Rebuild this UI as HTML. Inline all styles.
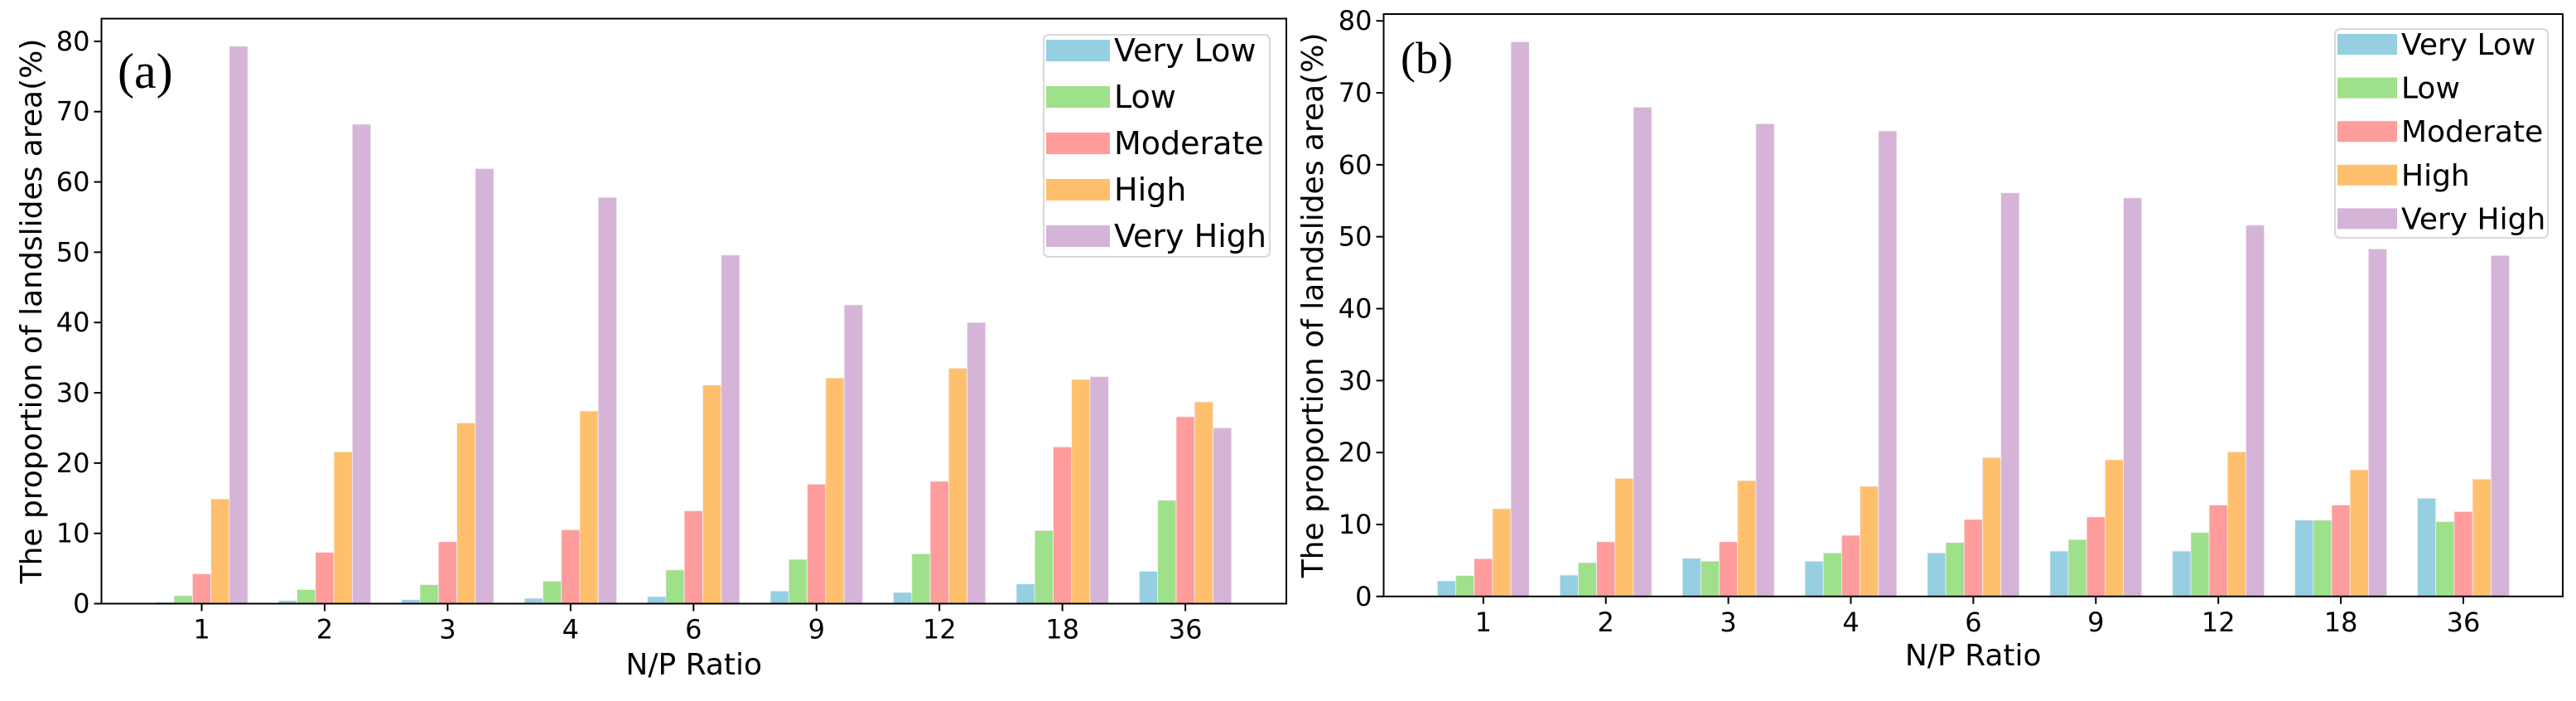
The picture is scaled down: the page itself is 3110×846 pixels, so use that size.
<!DOCTYPE html>
<html><head><meta charset="utf-8"><style>
html,body{margin:0;padding:0;background:#fff;}
svg text{font-family:"DejaVu Sans","Liberation Sans",sans-serif;fill:#000;}
</style></head><body>
<svg id="fig" width="3110" height="841" xmlns="http://www.w3.org/2000/svg"></svg>
<script>
const categories = ["1","2","3","4","6","9","12","18","36"];
const seriesNames = ["Very Low","Low","Moderate","High","Very High"];
const yTicks = [0,10,20,30,40,50,60,70,80];
const aVeryLow = [0.2,0.44,0.57,0.76,1.0,1.8,1.6,2.8,4.6];
const aLow = [1.14,2.0,2.7,3.2,4.8,6.3,7.1,10.4,14.7];
const aModerate = [4.24,7.3,8.8,10.5,13.2,17.0,17.4,22.3,26.6];
const aHigh = [14.9,21.6,25.7,27.4,31.1,32.1,33.5,31.9,28.7];
const aVeryHigh = [79.3,68.2,61.9,57.8,49.6,42.5,40.0,32.3,25.0];
const bVeryLow = [2.16,2.96,5.3,4.9,6.05,6.3,6.3,10.6,13.65];
const bLow = [2.9,4.7,4.9,6.05,7.5,7.9,8.9,10.6,10.4];
const bModerate = [5.25,7.6,7.6,8.5,10.7,11.05,12.7,12.7,11.8];
const bHigh = [12.2,16.4,16.1,15.3,19.3,19.0,20.1,17.6,16.3];
const bVeryHigh = [77.1,68.0,65.7,64.7,56.1,55.4,51.6,48.3,47.4];
const colors = ["#96cfe2","#9fe08a","#ff9c9c","#ffc06d","#d5b4d8"];

const NS="http://www.w3.org/2000/svg";
const svg=document.getElementById('fig');
function mk(tag,attrs,parent){const e=document.createElementNS(NS,tag);for(const k in attrs)e.setAttribute(k,attrs[k]);(parent||svg).appendChild(e);return e;}

function panel(p){
  const g=mk('g',{});
  
  
  const yScale=v=>p.y0-(v/80)*(p.y0-p.y80);
  const xScale=i=>p.x1+i*p.dx;
  const bw=p.dx*0.15;
  p.series.forEach((arr,s)=>{
    arr.forEach((v,i)=>{
      const cx=xScale(i)+(s-2)*bw;
      const r=mk('rect',{x:cx-bw/2,y:yScale(v),width:bw,height:p.y0-yScale(v),fill:colors[s],stroke:"#f4eef4","stroke-width":0.8},g);
      
      
    });
  });
  const fr=mk('rect',{x:p.left,y:p.top,width:p.right-p.left,height:p.y0-p.top,fill:"none",stroke:"#000","stroke-width":2},g);
  
  
  yTicks.forEach(t=>{
    const y=yScale(t);
    mk('line',{x1:p.left-9,x2:p.left,y1:y,y2:y,stroke:"#000","stroke-width":2},g);
    const tx=mk('text',{x:p.left-14,y:y+11,"text-anchor":"end","font-size":p.tfs},g);
    tx.textContent=t;
    
    
  });
  categories.forEach((c,i)=>{
    const x=xScale(i);
    mk('line',{x1:x,x2:x,y1:p.y0,y2:p.y0+9,stroke:"#000","stroke-width":2},g);
    const tx=mk('text',{x:x,y:p.y0+42,"text-anchor":"middle","font-size":p.tfs},g);
    tx.textContent=c;
    
    
  });
  const xl=mk('text',{x:(p.left+p.right)/2,y:p.xly,"text-anchor":"middle","font-size":p.lfs},g);
  xl.textContent="N/P Ratio";
  
  
  const cy=(p.top+p.y0)/2;
  const yl=mk('text',{x:p.ylx,y:cy,"text-anchor":"middle","font-size":p.lfs,transform:`rotate(-90 ${p.ylx} ${cy})`},g);
  yl.textContent="The proportion of landslides area(%)";
  
  
  const pl=mk('text',{x:p.plx,y:p.ply,"font-size":p.pfs},g);
  pl.setAttribute('style','font-family:"Liberation Serif",serif');
  pl.textContent="("+p.id+")";
  
  
  const L=p.leg;
  const lb=mk('rect',{x:L.x,y:L.y,width:L.w,height:L.h,rx:6,fill:"#fff","fill-opacity":0.8,stroke:"#d8d8d8","stroke-width":2},g);
  
  
  seriesNames.forEach((n,s)=>{
    const py=L.py+s*L.sp;
    const pr=mk('rect',{x:L.px,y:py,width:L.pw,height:L.ph,fill:colors[s]},g);
    
    
    const t=mk('text',{x:L.px+L.pw+5,y:py+L.ph,"font-size":L.fs},g);
    t.textContent=n;
    
    
  });
}

panel({id:"a",left:122.5,right:1553,top:22.5,y0:728.5,y80:49.9,x1:243.5,dx:148.45,
  series:[aVeryLow,aLow,aModerate,aHigh,aVeryHigh],tfs:32,lfs:36,xly:814,ylx:50,plx:142,ply:106,pfs:60,
  leg:{x:1260,y:42,w:273,h:268,px:1263,py:48,pw:77,ph:26,sp:56,fs:38}});
panel({id:"b",left:1670.5,right:3094,top:17,y0:719.8,y80:25.2,x1:1790.8,dx:147.9,
  series:[bVeryLow,bLow,bModerate,bHigh,bVeryHigh],tfs:32,lfs:36,xly:803,ylx:1597,plx:1691,ply:88,pfs:54,
  leg:{x:2819,y:35,w:257,h:252,px:2822,py:41,pw:72,ph:25,sp:52.6,fs:36}});
</script>
</body></html>
